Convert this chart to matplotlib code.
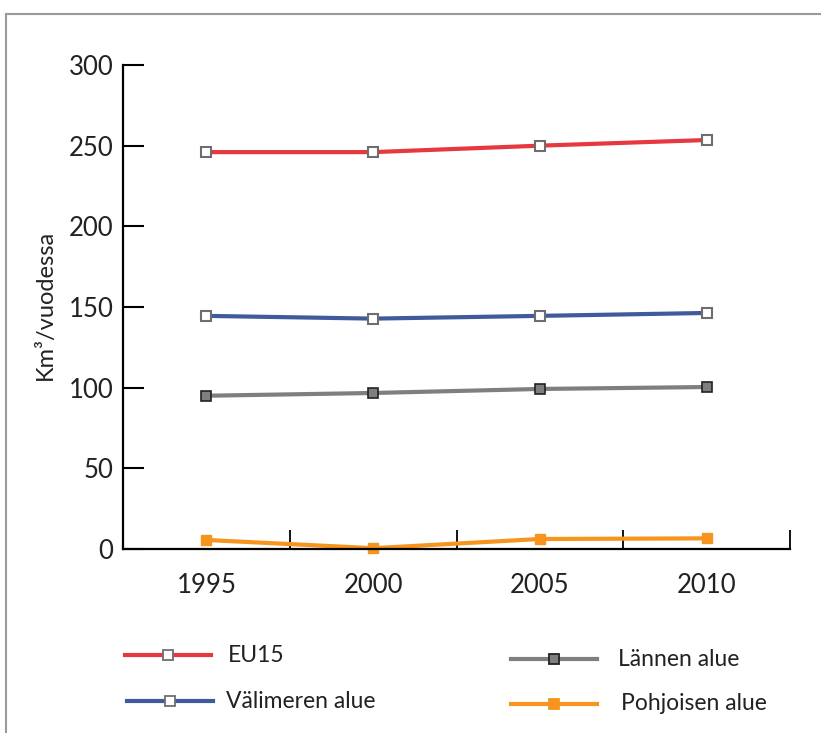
import matplotlib
matplotlib.use("Agg")
import matplotlib.pyplot as plt
from matplotlib.lines import Line2D

plt.rcParams['font.family'] = ['Lato', 'DejaVu Sans']

years = ["1995", "2000", "2005", "2010"]
eu15 = [246, 246, 250, 253.5]
valimeren = [144.5, 142.8, 144.5, 146.3]
lannen = [95, 96.7, 99.2, 100.4]
pohjoisen = [5.6, 0.5, 6.2, 6.6]

red = "#e8383f"
blue = "#405b9b"
grey = "#7f7f7f"
orange = "#f7941d"

W, H = 821, 733
fig = plt.figure(figsize=(W / 100, H / 100), dpi=100)

# outer frame, top and left edges only
frame = "#9a9a9a"
fig.add_artist(Line2D([6 / W, 1.0], [1 - 14 / H, 1 - 14 / H], color=frame, lw=1.5,
                      transform=fig.transFigure))
fig.add_artist(Line2D([6 / W, 6 / W], [0.0, 1 - 14 / H], color=frame, lw=1.5,
                      transform=fig.transFigure))

ax = fig.add_axes([123 / W, 184 / H, 667 / W, 484 / H])
x = range(len(years))

open_sq = dict(marker="s", markersize=7, markerfacecolor="white",
               markeredgecolor="#6e6e6e", markeredgewidth=1.5)
ax.plot(x, eu15, color=red, lw=3, **open_sq, label="EU15")
ax.plot(x, valimeren, color=blue, lw=3, **open_sq, label="Välimeren alue")
ax.plot(x, lannen, color=grey, lw=3, marker="s", markersize=7,
        markerfacecolor=grey, markeredgecolor="#222222", markeredgewidth=1.2,
        label="Lännen alue")
ax.plot(x, pohjoisen, color=orange, lw=3, marker="s", markersize=7,
        markerfacecolor=orange, markeredgecolor=orange, label="Pohjoisen alue",
        clip_on=False)

ax.set_xlim(-0.5, 3.5)
ax.set_ylim(0, 300)
ax.set_yticks(range(0, 301, 50))
ax.set_xticks([0.5, 1.5, 2.5, 3.5])
ax.set_xticklabels([])
ax.set_xticks(list(x), minor=True)
ax.set_xticklabels(years, minor=True)
ax.tick_params(axis="x", which="minor", length=0, pad=17, labelsize=18.5, colors="#222222")
ax.tick_params(axis="x", which="major", direction="in", length=14, width=1.3)
ax.tick_params(axis="y", direction="in", length=15, width=1.5, pad=7,
               labelsize=18.5, labelcolor="#222222")

for s in ["top", "right"]:
    ax.spines[s].set_visible(False)
for s in ["left", "bottom"]:
    ax.spines[s].set_linewidth(1.6)
    ax.spines[s].set_color("black")

fig.text(45 / W, 1 - 305 / H, "Km³/vuodessa", rotation=90, ha="center",
         va="center", fontsize=17, color="#222222")

# legend in two columns below the plot
la = fig.add_axes([0, 0, 1, 1])
la.set_xlim(0, W)
la.set_ylim(H, 0)
la.axis("off")
entries = [
    (125, 655, red, "white", "#6e6e6e", "EU15", 228),
    (127, 701, blue, "white", "#6e6e6e", "Välimeren alue", 226),
    (511, 659, grey, grey, "#222222", "Lännen alue", 618),
    (511, 704, orange, orange, orange, "Pohjoisen alue", 621),
]
for x0, y0, c, fc, ec, text, tx in entries:
    la.plot([x0, x0 + 86], [y0, y0], color=c, lw=3)
    la.plot([x0 + 43], [y0], marker="s", markersize=7, markerfacecolor=fc,
            markeredgecolor=ec, markeredgewidth=1.3)
    la.text(tx, y0, text, fontsize=16.5, va="center", ha="left", color="#222222")

fig.savefig("out.png", dpi=100)
